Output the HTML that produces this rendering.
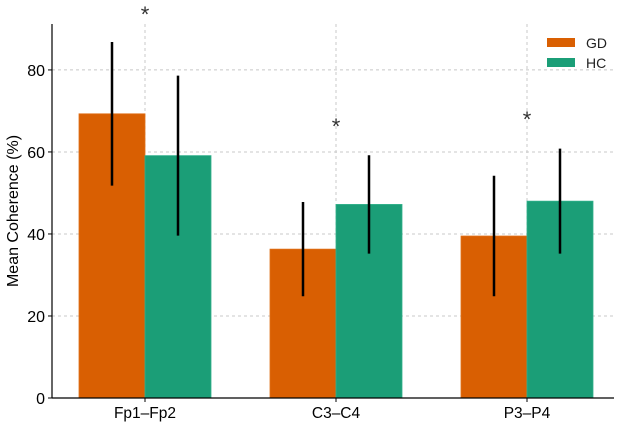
<!DOCTYPE html>
<html><head><meta charset="utf-8"><style>
html,body{margin:0;padding:0;background:#fff;}
svg{display:block;font-family:"Liberation Sans","DejaVu Sans",sans-serif;}
</style></head><body>
<svg id="chart" width="624" height="423" viewBox="0 0 624 423"></svg>
<script>
const categories = ["Fp1–Fp2", "C3–C4", "P3–P4"];
const gdValues = [69.3, 36.3, 39.5];
const hcValues = [59.1, 47.2, 48.0];
const gdErrors = [17.5, 11.5, 14.7];
const hcErrors = [19.5, 12.0, 12.8];
const starLevels = [94.6, 67.3, 69.0];
const yTicks = [0, 20, 40, 60, 80];

const NS = "http://www.w3.org/2000/svg";
const svg = document.getElementById("chart");
const X0 = 52, X1 = 614, Y0 = 398, YT = 24;
const yMax = 91.2;
function y(v){ return Y0 - v / yMax * (Y0 - YT); }
function x(i){ return 145 + i * 191; }
const bw = 66;
function mk(tag, attrs, parent){
  const e = document.createElementNS(NS, tag);
  for (const k in attrs) e.setAttribute(k, attrs[k]);
  (parent || svg).appendChild(e);
  return e;
}
yTicks.forEach(t => {
  if (t === 0) return;
  const g = mk("line", {x1:X0, x2:X1, y1:y(t), y2:y(t), stroke:"#c8c8c8", "stroke-dasharray":"3,3", "stroke-width":1});
  
  
});
categories.forEach((c, i) => {
  const g = mk("line", {x1:x(i), x2:x(i), y1:YT, y2:Y0, stroke:"#c8c8c8", "stroke-dasharray":"3,3", "stroke-width":1});
  
  
});
categories.forEach((c, i) => {
  const b1 = mk("rect", {x:x(i)-bw, y:y(gdValues[i]), width:bw, height:Y0-y(gdValues[i]), fill:"#d95f02", stroke:"#e0701a", "stroke-width":0.8});
  
  
  const b2 = mk("rect", {x:x(i), y:y(hcValues[i]), width:bw, height:Y0-y(hcValues[i]), fill:"#1b9e77", stroke:"#30b08a", "stroke-width":0.8});
  
  
  const e1 = mk("line", {x1:x(i)-bw/2, x2:x(i)-bw/2, y1:y(gdValues[i]-gdErrors[i]), y2:y(gdValues[i]+gdErrors[i]), stroke:"#000", "stroke-width":2.5});
  
  
  const e2 = mk("line", {x1:x(i)+bw/2, x2:x(i)+bw/2, y1:y(hcValues[i]-hcErrors[i]), y2:y(hcValues[i]+hcErrors[i]), stroke:"#000", "stroke-width":2.5});
  
  
  const s = mk("text", {x:x(i), y:y(starLevels[i])+12, "text-anchor":"middle", "font-size":22, fill:"#333"});
  s.textContent = "*";
  
  
  const lab = mk("text", {x:x(i), y:418, "text-anchor":"middle", "font-size":15.5, fill:"#000"});
  lab.textContent = c;
  
  
  const tk = mk("line", {x1:x(i), x2:x(i), y1:Y0, y2:Y0+4, stroke:"#000"});
  
  
});
yTicks.forEach(t => {
  const tk = mk("line", {x1:X0-4, x2:X0, y1:y(t), y2:y(t), stroke:"#000"});
  
  
  const l = mk("text", {x:X0-7, y:y(t)+6, "text-anchor":"end", "font-size":16, fill:"#000"});
  l.textContent = t;
  
  
});
const ax = mk("line", {x1:X0, x2:X0, y1:YT, y2:Y0, stroke:"#000", "stroke-width":1.2});


const bx = mk("line", {x1:X0, x2:X1, y1:Y0, y2:Y0, stroke:"#000", "stroke-width":1.2});


const yt = mk("text", {x:0, y:0, transform:"translate(18,211) rotate(-90)", "text-anchor":"middle", "font-size":16, fill:"#000"});
yt.textContent = "Mean Coherence (%)";


const lg = mk("g", {});


[["GD","#d95f02"],["HC","#1b9e77"]].forEach((d, k) => {
  const r = mk("rect", {x:547, y:38 + k*20, width:28, height:9, fill:d[1]}, lg);
  
  
  const t = mk("text", {x:586, y:48 + k*20, "font-size":14, fill:"#222"}, lg);
  t.textContent = d[0];
  
  
});
</script>
</body></html>
